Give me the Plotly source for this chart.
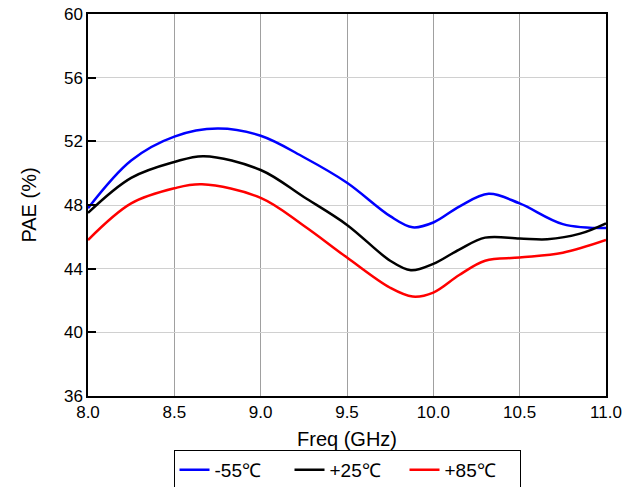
import plotly.graph_objects as go

blue_x = [8.0, 8.25, 8.5, 8.75, 9.0, 9.25, 9.5, 9.75, 9.88, 10.0, 10.15, 10.32, 10.5, 10.75, 11.0]
blue_y = [47.8, 50.8, 52.3, 52.8, 52.35, 51.0, 49.4, 47.3, 46.6, 46.9, 47.9, 48.7, 48.1, 46.8, 46.55]

black_x = [8.0, 8.25, 8.5, 8.67, 9.0, 9.25, 9.5, 9.75, 9.87, 10.0, 10.15, 10.3, 10.5, 10.66, 10.85, 11.0]
black_y = [47.5, 49.7, 50.7, 51.07, 50.2, 48.5, 46.75, 44.5, 43.9, 44.3, 45.2, 45.95, 45.9, 45.85, 46.2, 46.85]

red_x = [8.0, 8.25, 8.5, 8.66, 9.0, 9.25, 9.5, 9.75, 9.88, 10.0, 10.15, 10.3, 10.5, 10.75, 11.0]
red_y = [45.8, 48.1, 49.05, 49.3, 48.45, 46.7, 44.7, 42.8, 42.25, 42.5, 43.6, 44.5, 44.7, 45.0, 45.8]

names = ["-55℃", "+25℃", "+85℃"]
x_ticks = [8.0, 8.5, 9.0, 9.5, 10.0, 10.5, 11.0]
x_tick_labels = ["8.0", "8.5", "9.0", "9.5", "10.0", "10.5", "11.0"]
y_ticks = [36, 40, 44, 48, 52, 56, 60]

fig = go.Figure()
for xs, ys, nm, col in [(blue_x, blue_y, names[0], "#0000ff"),
                        (black_x, black_y, names[1], "#000000"),
                        (red_x, red_y, names[2], "#ff0000")]:
    fig.add_trace(go.Scatter(x=xs, y=ys, name=nm, mode="lines",
                             line=dict(color=col, width=2.5, shape="spline", smoothing=1.0)))

fig.update_layout(
    width=639, height=487,
    margin=dict(l=88, r=33, t=14, b=91, autoexpand=False),
    paper_bgcolor="white", plot_bgcolor="white",
    font=dict(family="Liberation Sans, Arial, sans-serif", size=17, color="black"),
    showlegend=True,
    legend=dict(orientation="h", x=0.5, xanchor="center",
                yref="container", y=0.076, yanchor="top",
                bordercolor="black", borderwidth=1, font=dict(size=19),
                entrywidth=70, entrywidthmode="pixels",
                itemwidth=30, tracegroupgap=0),
    xaxis=dict(range=[8.0, 11.0], tickvals=x_ticks, ticktext=x_tick_labels,
               showgrid=True, gridcolor="#a0a0a0", gridwidth=1,
               showline=True, linecolor="black", linewidth=1.5, mirror=True,
               ticks="", zeroline=False, automargin=False,
               title=dict(text="Freq (GHz)", font=dict(size=20), standoff=12)),
    yaxis=dict(range=[36, 60], tickvals=y_ticks,
               showgrid=True, gridcolor="#d0d0d0", gridwidth=1,
               showline=True, linecolor="black", linewidth=1.5, mirror=True,
               ticks="inside", ticklen=8, tickcolor="black", tickwidth=1.5, zeroline=False,
               automargin=False,
               title=dict(text="PAE (%)", font=dict(size=20), standoff=22)),
)

fig.write_html("out.html", config={"displayModeBar": False},
               post_script="document.body.style.margin='0';document.body.style.overflow='hidden';")
